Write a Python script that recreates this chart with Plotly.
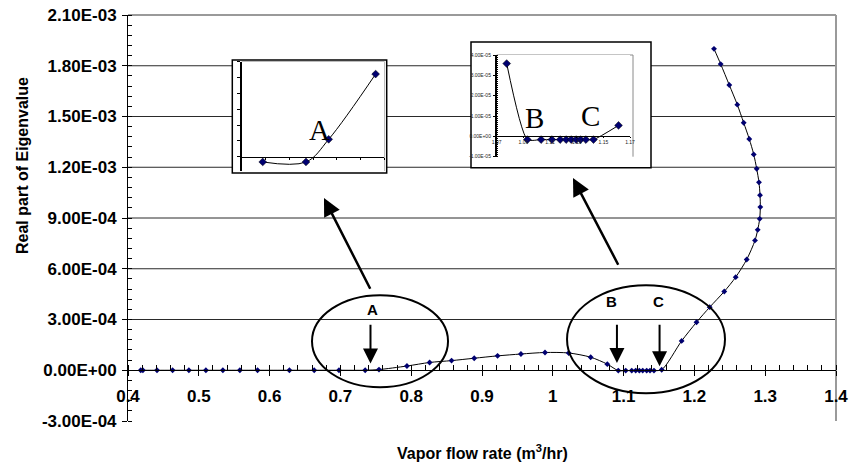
import plotly.graph_objects as go

# ---------------- data ----------------
flow_rate = [0.418, 0.421, 0.441, 0.463, 0.486, 0.510, 0.534, 0.558, 0.583, 0.628, 0.663, 0.698, 0.735,
             0.7545, 0.794, 0.826, 0.857, 0.889, 0.922, 0.955, 0.989, 1.0225, 1.0535, 1.077,
             1.0925, 1.103, 1.1115, 1.1171, 1.1222, 1.127, 1.1326, 1.1373, 1.1429, 1.1538,
             1.182, 1.203, 1.2216, 1.2422, 1.2583, 1.2739, 1.2856, 1.2894, 1.2922, 1.2931,
             1.2927, 1.2912, 1.288, 1.2838, 1.2775, 1.2696, 1.2606, 1.2493, 1.2371, 1.2277]
real_eig = [0.0, 0.0, 0.0, 0.0, 0.0, 0.0, 0.0, 0.0, 0.0, 0.0, 0.0, 0.0, 0.0,
            4e-6, 2.5e-5, 4.6e-5, 5.7e-5, 7.1e-5, 8.5e-5, 9.6e-5, 1.05e-4, 1.02e-4, 7.7e-5, 3.6e-5,
            -2e-6, -2e-6, -2e-6, -2e-6, -2e-6, -2e-6, -2e-6, -2e-6, -2e-6, 3e-6,
            1.734e-4, 2.839e-4, 3.728e-4, 4.657e-4, 5.502e-4, 6.549e-4, 7.674e-4, 8.301e-4, 8.951e-4, 9.644e-4,
            1.035e-3, 1.111e-3, 1.191e-3, 1.276e-3, 1.367e-3, 1.463e-3, 1.570e-3, 1.686e-3, 1.810e-3, 1.900e-3]

x_ticks = [0.4, 0.5, 0.6, 0.7, 0.8, 0.9, 1.0, 1.1, 1.2, 1.3, 1.4]
x_ticktext = ["0.4", "0.5", "0.6", "0.7", "0.8", "0.9", "1", "1.1", "1.2", "1.3", "1.4"]
y_ticks = [-3e-4, 0.0, 3e-4, 6e-4, 9e-4, 1.2e-3, 1.5e-3, 1.8e-3, 2.1e-3]
y_ticktext = ["-3.00E-04", "0.00E+00", "3.00E-04", "6.00E-04", "9.00E-04",
              "1.20E-03", "1.50E-03", "1.80E-03", "2.10E-03"]
grid_values = [3e-4, 6e-4, 9e-4, 1.2e-3, 1.5e-3, 1.8e-3]

# inset A (zoom near point A)
insetA_x = [0.7177, 0.7541, 0.7732, 0.8127]
insetA_y = [-3.3e-6, -3.3e-6, 1.10e-5, 5.22e-5]
insetA_xticks = [0.70, 0.72, 0.74, 0.76, 0.78, 0.80, 0.82]

# inset B (zoom near points B and C)
insetB_x = [1.0775, 1.0930, 1.1033, 1.1114, 1.1176, 1.1221, 1.1259, 1.1296, 1.1329, 1.1369, 1.1426, 1.1614]
insetB_y = [3.58e-5, -1.6e-6, -1.6e-6, -1.6e-6, -1.6e-6, -1.6e-6, -1.6e-6, -1.6e-6, -1.6e-6, -1.6e-6, -1.6e-6, 5.4e-6]
insetB_xticks = [1.07, 1.09, 1.11, 1.13, 1.15, 1.17]
insetB_xticktext = ["1.07", "1.09", "1.11", "1.13", "1.15", "1.17"]
insetB_yticks = [-1e-5, 0.0, 1e-5, 2e-5, 3e-5, 4e-5]
insetB_yticktext = ["-1.00E-05", "0.00E+00", "1.00E-05", "2.00E-05", "3.00E-05", "4.00E-05"]

# ---------------- geometry helpers (pixel -> paper) ----------------
L, R, T, B = 128, 13, 15, 47
W, H = 849, 468
PW, PH = W - L - R, H - T - B


def fx(px):
    return (px - L) / PW


def fy(py):
    return (H - B - py) / PH


NAVY = "#000070"
tickbold = dict(family="Liberation Sans, Arial", size=17, color="black", weight="bold")
titlebold = dict(family="Liberation Sans, Arial", size=16, color="black", weight="bold")
labelbold = dict(family="Liberation Sans, Arial", size=15, color="black", weight="bold")

fig = go.Figure()

# main curve
fig.add_trace(go.Scatter(
    x=flow_rate, y=real_eig, mode="lines+markers",
    line=dict(color="black", width=1, shape="spline", smoothing=0.8),
    marker=dict(symbol="diamond", size=4.5, color=NAVY),
    xaxis="x", yaxis="y", showlegend=False, hoverinfo="skip"))

# inset A
fig.add_trace(go.Scatter(
    x=insetA_x, y=insetA_y, mode="lines+markers",
    line=dict(color="black", width=1, shape="spline", smoothing=1),
    marker=dict(symbol="diamond", size=6, color=NAVY, line=dict(color="black", width=0.5)),
    xaxis="x2", yaxis="y2", showlegend=False, hoverinfo="skip"))

# inset B
fig.add_trace(go.Scatter(
    x=insetB_x, y=insetB_y, mode="lines+markers",
    line=dict(color="black", width=1, shape="spline", smoothing=0.6),
    marker=dict(symbol="diamond", size=6, color=NAVY, line=dict(color="black", width=0.5)),
    xaxis="x3", yaxis="y3", showlegend=False, hoverinfo="skip"))

shapes = []
# horizontal gridlines of the main chart
for g in grid_values:
    shapes.append(dict(type="line", xref="paper", yref="y", x0=0, x1=1, y0=g, y1=g,
                       line=dict(color="#2a2a2a", width=1), layer="below"))
# plot-area frame (top & right)
shapes.append(dict(type="line", xref="paper", yref="paper", x0=0, x1=1, y0=1, y1=1,
                   line=dict(color="#9a9a9a", width=2), layer="below"))
shapes.append(dict(type="line", xref="paper", yref="paper", x0=1, x1=1, y0=0, y1=1,
                   line=dict(color="#9a9a9a", width=2), layer="below"))
# inset frames (white boxes)
shapes.append(dict(type="rect", xref="paper", yref="paper",
                   x0=fx(232.3), x1=fx(386.7), y0=fy(173), y1=fy(60),
                   fillcolor="white", line=dict(color="black", width=1.5), layer="below"))
shapes.append(dict(type="rect", xref="paper", yref="paper",
                   x0=fx(471), x1=fx(651), y0=fy(167.7), y1=fy(42),
                   fillcolor="white", line=dict(color="black", width=1.5), layer="below"))
# inset inner plot-area borders
for (xa, xb, yt, yb) in [(241.7, 384.3, 61.7, 171), (496.7, 633, 55, 156.7)]:
    shapes.append(dict(type="line", xref="paper", yref="paper", x0=fx(xa), x1=fx(xb), y0=fy(yt), y1=fy(yt),
                       line=dict(color="#8a8a8a", width=1), layer="below"))
    shapes.append(dict(type="line", xref="paper", yref="paper", x0=fx(xb), x1=fx(xb), y0=fy(yb), y1=fy(yt),
                       line=dict(color="#8a8a8a", width=1), layer="below"))
# ellipses around A and B/C
shapes.append(dict(type="circle", xref="x", yref="y", x0=0.6599, x1=0.8520, y0=-1.006e-4, y1=4.437e-4,
                   line=dict(color="black", width=2), layer="above"))
shapes.append(dict(type="circle", xref="x", yref="y", x0=1.0201, x1=1.2432, y0=-1.361e-4, y1=5.029e-4,
                   line=dict(color="black", width=2), layer="above"))

annotations = []
# axis titles
annotations.append(dict(text="Real part of Eigenvalue", xref="paper", yref="paper", x=fx(22), y=fy(166),
                        textangle=-90, showarrow=False, font=titlebold, xanchor="center", yanchor="middle"))
annotations.append(dict(text="Vapor flow rate (m<sup>3</sup>/hr)", xref="paper", yref="paper",
                        x=fx(483), y=fy(452), showarrow=False, font=titlebold,
                        xanchor="center", yanchor="middle"))
# point labels
for txt, xv, yv in [("A", 0.746, 3.6e-4), ("B", 1.0822, 4.07e-4), ("C", 1.1496, 4.07e-4)]:
    annotations.append(dict(text=txt, x=xv, y=yv, xref="x", yref="y", showarrow=False, font=labelbold))
# vertical arrows
for xv, yh in [(0.7425, 3.96e-5), (1.0906, 4.32e-5), (1.1508, 2.37e-5)]:
    annotations.append(dict(text="", x=xv, y=yh, ax=xv, ay=2.78e-4, xref="x", yref="y",
                            axref="x", ayref="y", showarrow=True, arrowhead=2, arrowsize=1.5,
                            arrowwidth=2, arrowcolor="black", standoff=0, startstandoff=0))
# big arrows towards insets
for (xh, yh, xt, yt) in [(0.6768, 1.0177e-3, 0.7432, 4.73e-4), (1.0285, 1.136e-3, 1.0935, 6.15e-4)]:
    annotations.append(dict(text="", x=xh, y=yh, ax=xt, ay=yt, xref="x", yref="y",
                            axref="x", ayref="y", showarrow=True, arrowhead=2, arrowsize=1.4,
                            arrowwidth=2.5, arrowcolor="black", standoff=0, startstandoff=0))
# inset letters
serif = dict(family="Liberation Serif, Times New Roman", size=29, color="black")
annotations.append(dict(text="A", xref="paper", yref="paper", x=fx(307), y=fy(148), yanchor="bottom",
                        showarrow=False, font=serif))
annotations.append(dict(text="B", xref="paper", yref="paper", x=fx(534), y=fy(135.5), yanchor="bottom",
                        showarrow=False, font=serif))
annotations.append(dict(text="C", xref="paper", yref="paper", x=fx(590.7), y=fy(134.5), yanchor="bottom",
                        showarrow=False, font=serif))

tiny = dict(family="Liberation Sans, Arial", size=5, color="#222")

fig.update_layout(
    width=W, height=H, margin=dict(l=L, r=R, t=T, b=B, autoexpand=False),
    paper_bgcolor="white", plot_bgcolor="white",
    shapes=shapes, annotations=annotations,
    xaxis=dict(range=[0.4, 1.4], domain=[0, 1], anchor="free", position=0.125, automargin=False,
               tickvals=x_ticks, ticktext=x_ticktext, tickfont=tickbold,
               showline=True, linecolor="black", linewidth=1,
               ticks="outside", ticklen=5, tickcolor="black", ticklabelstandoff=5,
               minor=dict(dtick=0.02, ticks="inside", ticklen=5, tickcolor="black"),
               showgrid=False, zeroline=False),
    yaxis=dict(range=[-3e-4, 2.1e-3], domain=[0, 1], anchor="x", automargin=False,
               tickvals=y_ticks, ticktext=y_ticktext, tickfont=tickbold,
               showline=True, linecolor="black", linewidth=1,
               ticks="outside", ticklen=5, tickcolor="black", ticklabelstandoff=2,
               minor=dict(dtick=6e-5, ticks="inside", ticklen=4, tickcolor="black"),
               showgrid=False, zeroline=False),
    xaxis2=dict(range=[0.70, 0.82], domain=[fx(241.7), fx(384.3)], anchor="free", position=fy(156.7),
                automargin=False, tickvals=insetA_xticks, showticklabels=False,
                showline=True, linecolor="black", linewidth=1,
                ticks="outside", ticklen=2, tickcolor="black", showgrid=False, zeroline=False),
    yaxis2=dict(range=[-0.9e-5, 6.0e-5], domain=[fy(171), fy(61.7)], anchor="x2", automargin=False,
                dtick=1e-5, tick0=0, showticklabels=False,
                showline=True, linecolor="black", linewidth=1.5,
                ticks="outside", ticklen=3, tickcolor="black", showgrid=False, zeroline=False),
    xaxis3=dict(range=[1.07, 1.17], domain=[fx(496.7), fx(630)], anchor="free", position=fy(136),
                automargin=False, tickvals=insetB_xticks, ticktext=insetB_xticktext, tickfont=tiny,
                showline=True, linecolor="black", linewidth=1,
                ticks="outside", ticklen=1, tickcolor="black", ticklabelstandoff=0,
                showgrid=False, zeroline=False),
    yaxis3=dict(range=[-1e-5, 4e-5], domain=[fy(156.7), fy(55)], anchor="x3", automargin=False,
                tickvals=insetB_yticks, ticktext=insetB_yticktext, tickfont=tiny,
                showline=True, linecolor="black", linewidth=1.5,
                ticks="outside", ticklen=2, tickcolor="black", ticklabelstandoff=1,
                minor=dict(dtick=1e-6, ticks="inside", ticklen=2, tickcolor="black"),
                showgrid=False, zeroline=False),
)

fig.write_html("out.html")
